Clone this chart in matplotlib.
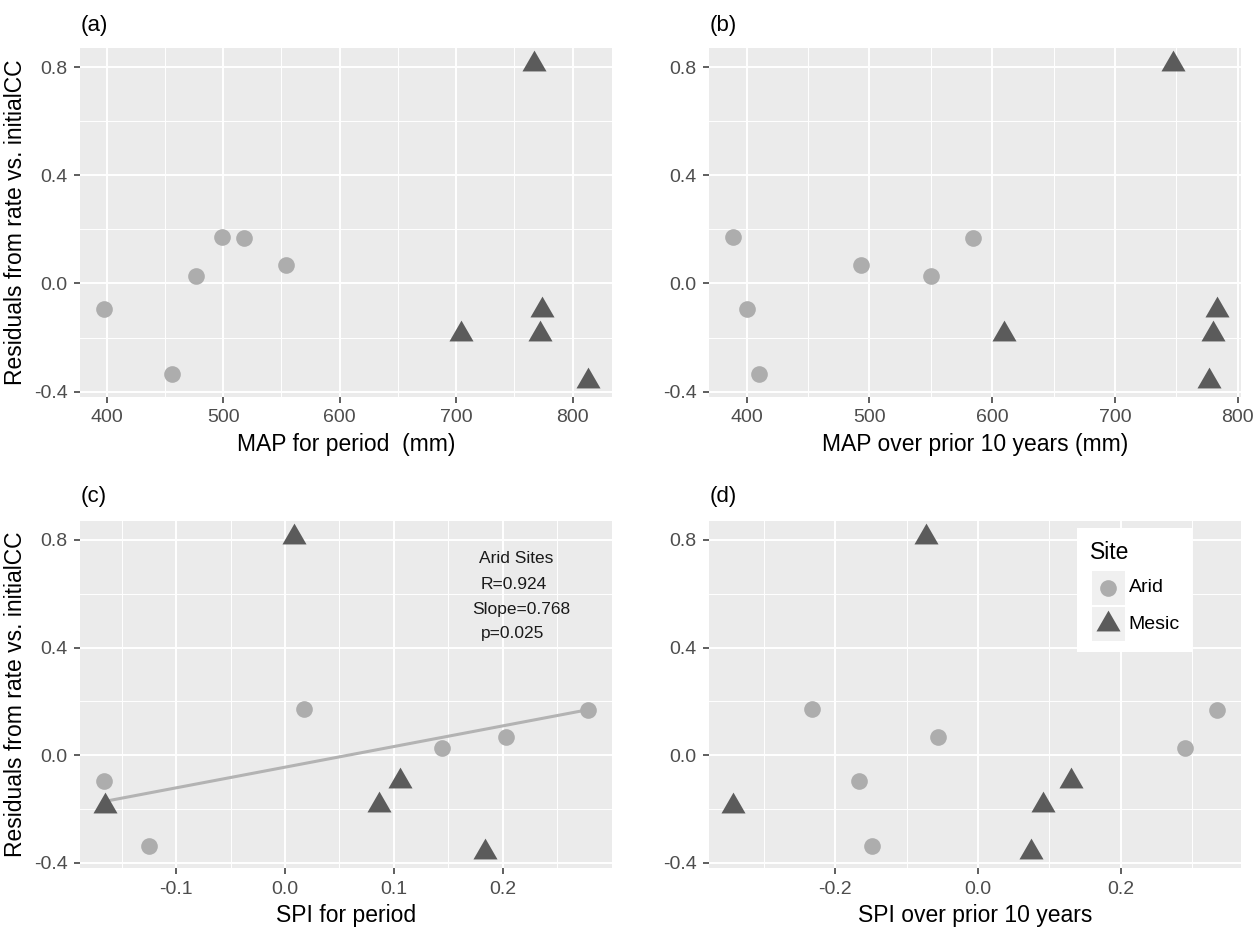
import numpy as np
import matplotlib
matplotlib.use("Agg")
import matplotlib.pyplot as plt
from matplotlib.patches import Rectangle
from matplotlib.ticker import FixedLocator

plt.rcParams['font.family'] = ['Liberation Sans', 'DejaVu Sans']

# Residuals (same sites in every panel)
resid_arid = [-0.095, -0.336, 0.026, 0.171, 0.167, 0.068]
resid_mesic = [0.812, -0.188, -0.098, -0.185, -0.361]

# Predictors per panel
map_period_arid = [398, 456, 477, 499, 518, 554]
map_period_mesic = [767, 704, 774, 772, 813]
map_prior_arid = [400, 410, 550, 389, 584, 493]
map_prior_mesic = [747, 610, 783, 780, 777]
spi_period_arid = [-0.166, -0.125, 0.144, 0.017, 0.278, 0.203]
spi_period_mesic = [0.008, -0.165, 0.106, 0.086, 0.184]
spi_prior_arid = [-0.166, -0.148, 0.290, -0.233, 0.335, -0.056]
spi_prior_mesic = [-0.073, -0.343, 0.130, 0.092, 0.074]

site_names = ["Arid", "Mesic"]
panel_tags = ["(a)", "(b)", "(c)", "(d)"]
x_titles = ["MAP for period  (mm)", "MAP over prior 10 years (mm)",
            "SPI for period", "SPI over prior 10 years"]
y_title = "Residuals from rate vs. initialCC"
y_ticks = [-0.4, 0.0, 0.4, 0.8]
y_ticklabels = ["-0.4", "0.0", "0.4", "0.8"]
x_ticks = [[400, 500, 600, 700, 800], [400, 500, 600, 700, 800],
           [-0.1, 0.0, 0.1, 0.2], [-0.2, 0.0, 0.2]]
x_ticklabels = [["400", "500", "600", "700", "800"],
                ["400", "500", "600", "700", "800"],
                ["-0.1", "0.0", "0.1", "0.2"], ["-0.2", "0.0", "0.2"]]
stats_lines = ["Arid Sites", "R=0.924", "Slope=0.768", "p=0.025"]

ARID_C = "#adadad"
MESIC_C = "#5b5b5b"
BG = "#ebebeb"
TRI = [(0.0, 1.0), (-0.866, -0.5), (0.866, -0.5), (0.0, 1.0)]
CIRC_MS = 12
TRI_MS = 20

W, H = 1260, 932
fig = plt.figure(figsize=(W / 100, H / 100), dpi=100)


def add_panel(l, t, r, b):
    return fig.add_axes([l / W, 1 - b / H, (r - l) / W, (b - t) / H])


def expanded(vals):
    lo, hi = min(vals), max(vals)
    pad = 0.05 * (hi - lo)
    return lo - pad, hi + pad


boxes = [(80, 48, 612, 397), (709, 48, 1241, 397),
         (80, 521, 612, 868), (709, 521, 1241, 868)]
xs = [(map_period_arid, map_period_mesic), (map_prior_arid, map_prior_mesic),
      (spi_period_arid, spi_period_mesic), (spi_prior_arid, spi_prior_mesic)]
tag_pos = [(81, 26), (710, 26), (81, 497), (710, 497)]

axes = []
for i, (box, (xa, xm)) in enumerate(zip(boxes, xs)):
    ax = add_panel(*box)
    axes.append(ax)
    ax.set_facecolor(BG)
    for s in ax.spines.values():
        s.set_visible(False)
    ax.set_xlim(*expanded(xa + xm))
    ax.set_ylim(*expanded(resid_arid + resid_mesic))
    ax.set_xticks(x_ticks[i])
    ax.set_xticklabels(x_ticklabels[i])
    ax.set_yticks(y_ticks)
    ax.set_yticklabels(y_ticklabels)
    xt = x_ticks[i]
    step = xt[1] - xt[0]
    xminor = [xt[0] - step / 2] + [v + step / 2 for v in xt]
    ax.xaxis.set_minor_locator(FixedLocator(xminor))
    ax.yaxis.set_minor_locator(FixedLocator([-0.2, 0.2, 0.6]))
    ax.grid(which='major', color='white', lw=1.4)
    ax.grid(which='minor', color='white', lw=0.7)
    ax.set_axisbelow(True)
    ax.tick_params(which='major', length=4, width=1.1, color='#333333',
                   labelsize=14, labelcolor='#4d4d4d', pad=5)
    ax.tick_params(which='minor', length=0)
    ax.set_xlabel(x_titles[i], fontsize=16.5, labelpad=5, color='black')
    if i in (0, 2):
        ax.set_ylabel(y_title, fontsize=16.5, labelpad=5, color='black')

    if i == 2:
        coef = np.polyfit(xa, resid_arid, 1)
        xl = np.array([min(xa), max(xa)])
        ax.plot(xl, np.polyval(coef, xl), color='#b3b3b3', lw=2.2, zorder=2)
        tx = [0.212, 0.210, 0.217, 0.209]
        ty = [0.733, 0.636, 0.543, 0.451]
        for s, x0, y0 in zip(stats_lines, tx, ty):
            ax.text(x0, y0, s, ha='center', va='center', fontsize=12.5,
                    color='#1a1a1a')

    ax.plot(xa, resid_arid, linestyle='none', marker='o', ms=CIRC_MS,
            mfc=ARID_C, mec=ARID_C, mew=0, zorder=3)
    ax.plot(xm, resid_mesic, linestyle='none', marker=TRI, ms=TRI_MS,
            mfc=MESIC_C, mec=MESIC_C, mew=0, zorder=3)

    fig.text(tag_pos[i][0] / W, 1 - tag_pos[i][1] / H, panel_tags[i],
             ha='left', va='center', fontsize=16, color='black')

# Legend for site type, drawn inside panel (d)
axd = axes[3]
tr = axd.transAxes
axd.add_patch(Rectangle((0.692, 0.623), 0.216, 0.358, transform=tr,
                        facecolor='white', edgecolor='none', zorder=4))
axd.text(0.7167, 0.908, "Site", transform=tr, ha='left', va='center',
         fontsize=16.5, zorder=5)
key_y = [0.8078, 0.703]
key_bot = [0.759, 0.655]
for name, ky, kb, col, mk, ms in zip(site_names, key_y, key_bot,
                                     [ARID_C, MESIC_C], ['o', TRI],
                                     [CIRC_MS, TRI_MS]):
    axd.add_patch(Rectangle((0.7195, kb), 0.062, 0.098, transform=tr,
                            facecolor='#f0f0f0', edgecolor='none', zorder=5))
    axd.plot([0.7505], [ky], transform=tr, marker=mk, ms=ms, mfc=col,
             mec=col, mew=0, linestyle='none', zorder=6, clip_on=False)
    axd.text(0.789, ky, name, transform=tr, ha='left', va='center',
             fontsize=14, zorder=6)

fig.savefig("out.png", dpi=100, facecolor='white')
